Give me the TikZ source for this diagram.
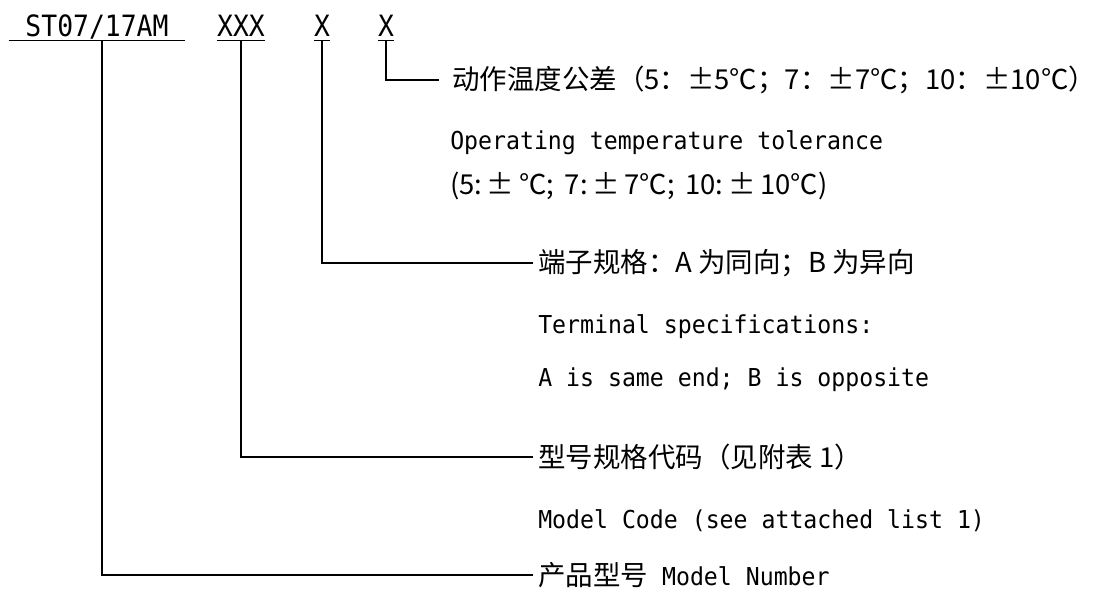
\documentclass[tikz,border=0pt]{standalone}
\usepackage{fontspec}
\setmainfont[FakeStretch=0.94]{DejaVu Sans Mono}
\newfontfamily\codefont[FakeStretch=0.9]{DejaVu Sans Mono}
\newfontfamily\cjk{Noto Sans CJK SC}
\usetikzlibrary{positioning}

\newcommand\latin[1]{{\rmfamily\fontsize{18.5}{22}\selectfont #1}}

\begin{document}
\begin{tikzpicture}[x=0.75pt,y=-0.75pt]
\tikzset{code/.style={anchor=base,inner xsep=0pt,inner ysep=3pt,text depth=0pt,font=\codefont\fontsize{22}{26}\selectfont}}
\tikzset{desc/.style={anchor=west,inner xsep=3.75pt,inner ysep=0pt,font=\cjk\fontsize{20.6}{24}\selectfont}}
\tikzset{note/.style={anchor=west,inner sep=0pt,font=\fontsize{18.5}{22}\selectfont}}
\tikzset{uline/.style={line width=1.1pt}}
\tikzset{lead/.style={line width=1.4pt}}

  \useasboundingbox (0,0) rectangle (1119,590);

  % the code itself
  \node[code,inner xsep=12.4pt] (st) at (97,36)  {ST07/17AM};
  \node[code] (xxx) at (241,36) {XXX};
  \node[code] (xa)  at (322,36) {X};
  \node[code] (xb)  at (386,36) {X};

  \draw[uline] (st.south west) -- (st.south east);
  \draw[uline] (xxx.south west) -- (xxx.south east);
  \draw[uline] (xa.south west) -- (xa.south east);
  \draw[uline] (xb.south west) -- (xb.south east);

  % what each part means
  \node[desc,inner xsep=9.75pt] (d4) at (439,80) {动作温度公差（5：±5℃；7：±7℃；10：±10℃）};
  \node[note] (e4a) at (450,143) {Operating temperature tolerance};
  \node[note,font=\cjk\fontsize{20.6}{24}\selectfont] (e4b) at (450,186) {(5:\,±\,℃;\, 7:\,±\,7℃;\, 10:\,±\,10℃)};

  \node[desc] (d3) at (533,263) {端子规格：A 为同向；B 为异向};
  \node[note] (e3a) at (538,327) {Terminal specifications:};
  \node[note] (e3b) at (538,380) {A is same end; B is opposite};

  \node[desc] (d2) at (533,457) {型号规格代码（见附表 1）};
  \node[note] (e2) at (538,521) {Model Code (see attached list 1)};

  \node[desc] (d1) at (533,575) {产品型号\latin{ Model Number}};

  \draw[lead] (xb.south) |- (d4.west);
  \draw[lead] (xa.south) |- (d3.west);
  \draw[lead] (xxx.south) |- (d2.west);
  \draw[lead] ([xshift=4]st.south) |- (d1.west);
\end{tikzpicture}
\end{document}
